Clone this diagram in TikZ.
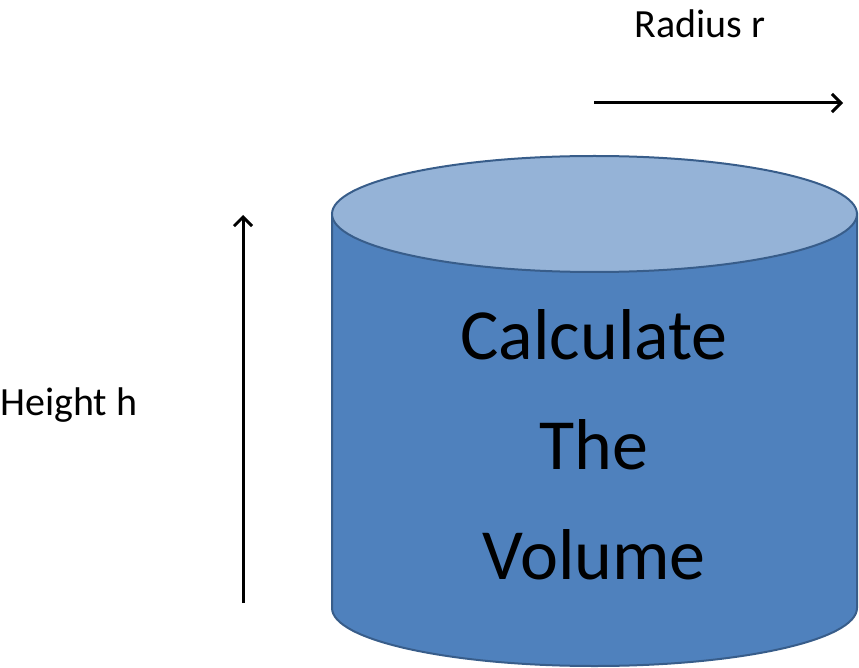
\documentclass[tikz,border=0pt]{standalone}
\usepackage{fontspec}
\setmainfont{Carlito}
\definecolor{body}{HTML}{4F81BD}
\definecolor{topc}{HTML}{95B3D7}
\definecolor{edge}{HTML}{385D8A}
\begin{document}
\begin{tikzpicture}[x=1pt,y=-1pt,
  arr/.style={line width=3pt,-{Straight Barb[length=9pt,width=18pt,line width=3pt]}},
  lab/.style={font=\fontsize{40}{48}\selectfont},
  big/.style={font=\fontsize{72}{110}\selectfont,align=center}]
\usetikzlibrary{arrows.meta}
\useasboundingbox (0,0) rectangle (859,668);
\fill[body,draw=edge,line width=2pt] (332,214) -- (332,608) arc[start angle=180,end angle=360,x radius=262.5,y radius=-58] -- (857,214) -- cycle;
\filldraw[fill=topc,draw=edge,line width=2pt] (594.5,214) ellipse [x radius=262.5,y radius=58];
\node[big] (t) at (594,445) {Calculate\\The\\Volume};
\coordinate (h1) at (243,603); \coordinate (h2) at (243,215);
\draw[arr] (h1) -- (h2);
\coordinate (r1) at (594,103); \coordinate (r2) at (843,103);
\draw[arr] (r1) -- (r2);
\node[lab] (rl) at (700,24) {Radius r};
\node[lab,anchor=west,inner sep=0pt] (hl) at (0,405) {Height h};
\end{tikzpicture}
\end{document}
